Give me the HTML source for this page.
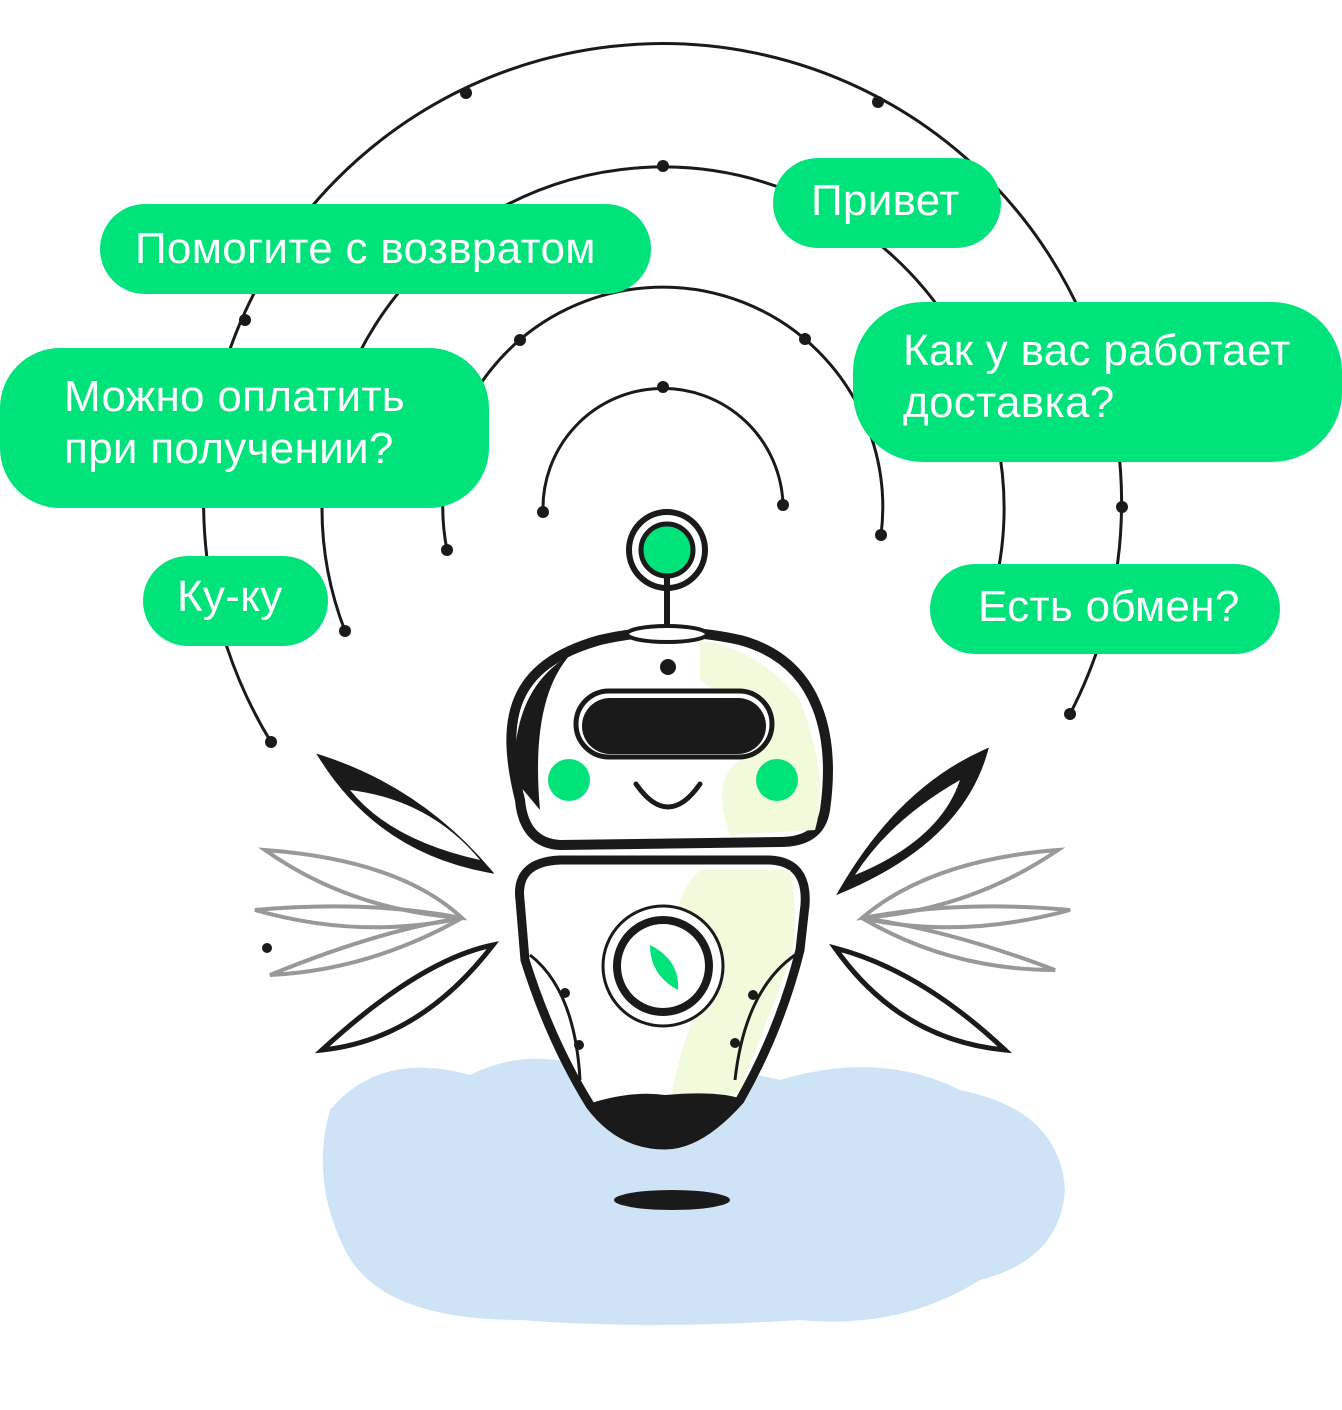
<!DOCTYPE html>
<html><head><meta charset="utf-8"><style>
html,body{margin:0;padding:0;background:#fff;width:1342px;height:1410px;overflow:hidden}
svg{position:absolute;left:0;top:0}
.b{position:absolute;background:#00e37a;color:#fff;font-family:"Liberation Sans",sans-serif;font-size:44px;letter-spacing:0.3px;line-height:52px;border-radius:46px;box-sizing:border-box;white-space:nowrap}
</style></head><body>
<svg width="1342" height="1410" viewBox="0 0 1342 1410">
<path d="M330,1110 Q380,1050 470,1075 Q540,1040 620,1080 Q700,1060 780,1080 Q880,1050 960,1090 Q1060,1110 1065,1190 Q1060,1260 980,1280 Q900,1330 800,1320 Q650,1330 520,1320 Q380,1320 345,1250 Q310,1180 330,1110Z" fill="#cfe3f7"/>
<ellipse cx="672" cy="1200" rx="58" ry="10" fill="#1a1a1a"/>
<g fill="none" stroke="#1a1a1a" stroke-width="3">
<path d="M543,512 A120,120 0 1 1 783,505"/>
<path d="M447,550 A220,220 0 1 1 881,535"/>
<path d="M345,631 A341,341 0 1 1 994,590"/>
<path d="M271,742 A459,459 0 1 1 1070,714"/>
</g>
<g fill="#1a1a1a">
<circle cx="543" cy="512" r="6"/><circle cx="783" cy="505" r="6"/><circle cx="663" cy="387" r="6"/>
<circle cx="447" cy="550" r="6"/><circle cx="881" cy="535" r="6"/><circle cx="520" cy="340" r="6"/><circle cx="805" cy="339" r="6"/>
<circle cx="345" cy="631" r="6"/><circle cx="663" cy="166" r="6"/>
<circle cx="271" cy="742" r="6"/><circle cx="1070" cy="714" r="6"/><circle cx="466" cy="93" r="6"/><circle cx="878" cy="102" r="6"/><circle cx="245" cy="320" r="6"/><circle cx="1122" cy="507" r="6"/><circle cx="267" cy="948" r="5"/>
</g>
<g fill="#fff" stroke="#1a1a1a" stroke-width="5">
<path d="M322,758 Q420,790 488,870 Q380,850 322,758Z" fill="#1a1a1a"/>
<path d="M350,790 Q430,800 480,860 Q390,840 350,790Z" fill="#fff" stroke="none"/>
<path d="M985,752 Q900,790 842,890 Q960,840 985,752Z" fill="#1a1a1a"/>
<path d="M960,780 Q890,820 855,875 Q940,840 960,780Z" fill="#fff" stroke="none"/>
<path d="M322,1050 Q420,960 493,945 Q420,1040 322,1050Z"/>
<path d="M835,948 Q920,970 1005,1050 Q900,1040 835,948Z"/>
</g>
<g fill="none" stroke="#555" stroke-width="4" opacity="0.6">
<path d="M265,850 Q400,860 462,918 Q350,910 265,850Z"/><path d="M255,910 Q370,900 462,918 Q360,940 255,910Z"/><path d="M270,975 Q380,930 462,918 Q370,970 270,975Z"/>
<path d="M1058,850 Q930,860 862,918 Q970,910 1058,850Z"/><path d="M1070,910 Q960,900 862,918 Q960,940 1070,910Z"/><path d="M1055,970 Q950,930 862,918 Q950,970 1055,970Z"/>
</g>
<circle cx="667" cy="550" r="38" fill="#fff" stroke="#1a1a1a" stroke-width="6"/>
<circle cx="667" cy="550" r="26" fill="#00e37a" stroke="#1a1a1a" stroke-width="5"/>
<line x1="667" y1="578" x2="667" y2="632" stroke="#1a1a1a" stroke-width="6"/>
<path d="M520,800 C500,720 510,665 600,640 Q668,624 740,640 C822,662 835,740 825,810 Q820,842 780,842 L560,845 Q524,843 520,800Z" fill="#fff" stroke="#1a1a1a" stroke-width="10"/>
<path d="M700,640 Q760,650 800,700 Q830,780 815,830 L730,835 Q710,780 740,760 Q760,720 700,680Z" fill="#f1fbdc"/>
<path d="M515,780 Q510,690 570,655 Q530,700 540,810Z" fill="#1a1a1a"/>
<ellipse cx="667" cy="634" rx="40" ry="8" fill="#fff" stroke="#1a1a1a" stroke-width="4"/>
<circle cx="668" cy="667" r="8" fill="#1a1a1a"/>
<rect x="576" y="691" width="196" height="66" rx="33" fill="#fff" stroke="#1a1a1a" stroke-width="5"/>
<rect x="582" y="698" width="184" height="56" rx="28" fill="#1a1a1a"/>
<circle cx="569" cy="780" r="21" fill="#00e37a"/><circle cx="777" cy="780" r="21" fill="#00e37a"/>
<path d="M636,784 Q668,830 700,784" fill="none" stroke="#1a1a1a" stroke-width="5" stroke-linecap="round"/>
<path d="M520,900 Q515,862 560,860 L770,860 Q808,862 805,905 L800,950 Q780,1030 740,1100 Q700,1145 665,1145 Q620,1145 590,1105 Q550,1040 525,960Z" fill="#fff" stroke="#1a1a1a" stroke-width="9"/>
<path d="M700,870 L790,870 Q800,920 790,960 Q760,1040 740,1090 Q700,1120 670,1105 Q680,1040 710,980 Q650,920 700,870Z" fill="#f1fbdc"/>
<path d="M585,1105 Q630,1090 665,1095 Q720,1090 745,1100 Q700,1145 665,1145 Q620,1145 585,1105Z" fill="#1a1a1a"/>
<g fill="none" stroke="#1a1a1a" stroke-width="3"><path d="M530,955 Q575,990 580,1080"/><path d="M795,955 Q745,990 735,1080"/></g>
<g fill="#1a1a1a"><circle cx="565" cy="993" r="5"/><circle cx="579" cy="1045" r="5"/><circle cx="753" cy="995" r="5"/><circle cx="735" cy="1043" r="5"/></g>
<circle cx="663" cy="966" r="60" fill="#fff" stroke="#1a1a1a" stroke-width="3"/>
<circle cx="663" cy="966" r="46" fill="#fff" stroke="#1a1a1a" stroke-width="8"/>
<path d="M650,945 Q680,960 678,990 Q650,975 650,945Z" fill="#00e37a"/>
</svg>
<div class="b" style="left:100px;top:204px;width:551px;height:90px;padding:19px 0 0 35px">Помогите с возвратом</div>
<div class="b" style="left:773px;top:158px;width:228px;height:90px;padding:17px 0 0 38px">Привет</div>
<div class="b" style="left:0;top:348px;width:489px;height:160px;padding:23px 0 0 64px;border-radius:60px">Можно оплатить<br>при получении?</div>
<div class="b" style="left:853px;top:302px;width:489px;height:160px;padding:23px 0 0 50px;border-radius:70px">Как у вас работает<br>доставка?</div>
<div class="b" style="left:143px;top:556px;width:185px;height:90px;padding:15px 0 0 34px">Ку-ку</div>
<div class="b" style="left:930px;top:564px;width:350px;height:90px;padding:17px 0 0 48px">Есть обмен?</div>
</body></html>
